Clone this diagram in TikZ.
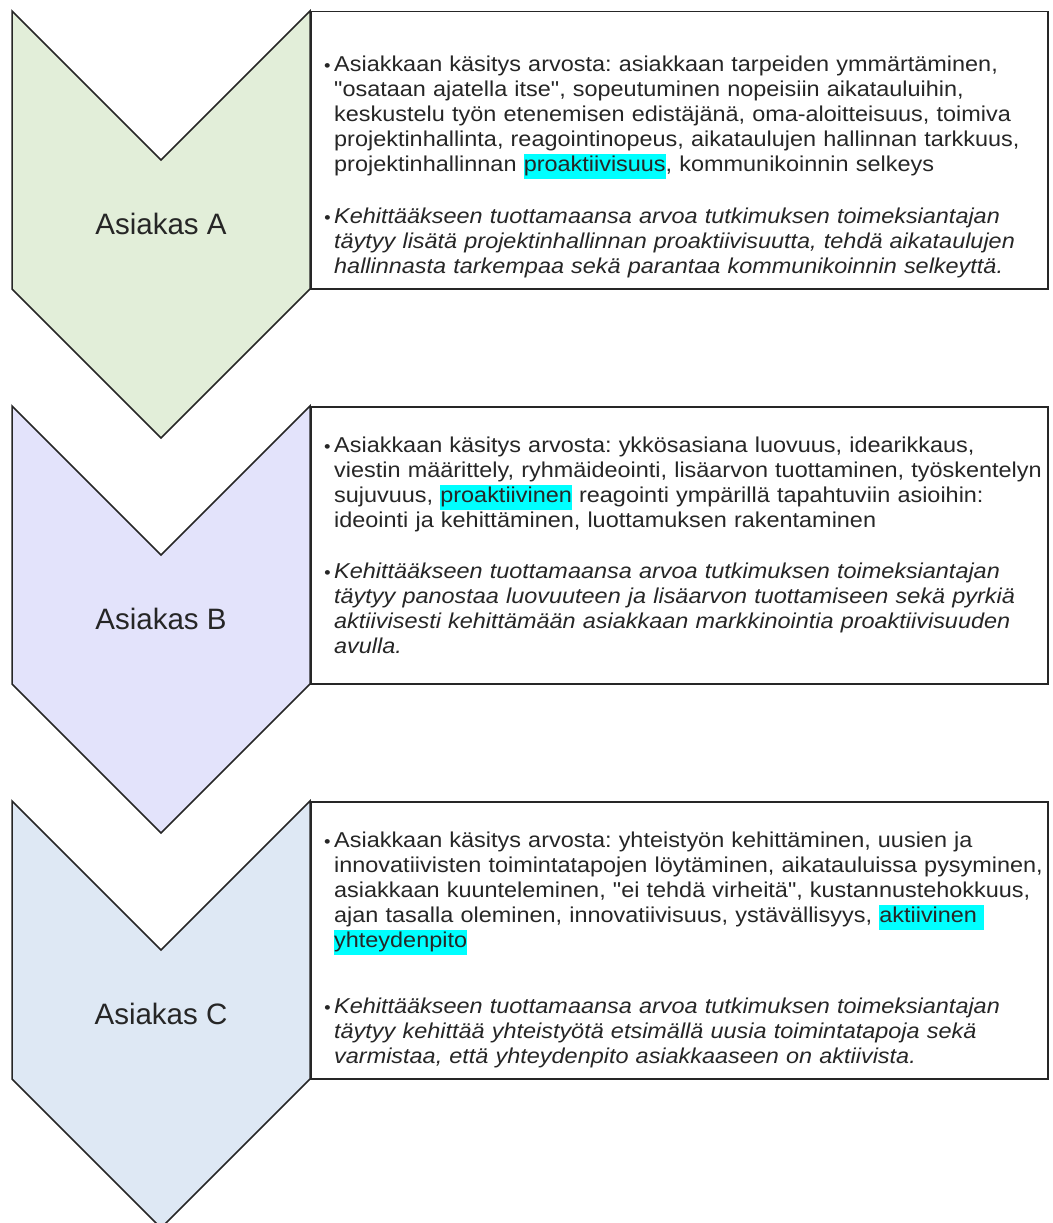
\documentclass[tikz,border=0pt]{standalone}
\usepackage{fontspec}
\setmainfont{Liberation Sans}
\newfontfamily\bodyfam{Liberation Sans}[FakeStretch=1.09]
\definecolor{fillA}{HTML}{E2EED9}
\definecolor{fillB}{HTML}{E3E3FB}
\definecolor{fillC}{HTML}{DEE8F4}
\definecolor{ink}{HTML}{262626}
\definecolor{hlcyan}{RGB}{0,255,255}
\frenchspacing
\newcommand{\hl}[1]{{\setlength{\fboxsep}{0pt}\colorbox{hlcyan}{\strut#1}}}
\newcommand{\bul}{\llap{{\fontsize{17}{17}\selectfont\textbullet}\hspace{3.5pt}}}

\begin{document}
\begin{tikzpicture}[x=1pt, y=-1pt,
    chev/.style={draw=ink, line width=1.5pt, line join=miter},
    infobox/.style={draw=ink, line width=1.5pt, fill=white, inner sep=0pt, anchor=north west,
        minimum width=737pt, minimum height=277pt},
    asiakas/.style={anchor=base, text=ink, font=\fontsize{29.5}{34}\selectfont},
    bullettext/.style={anchor=north west, inner sep=0pt, text=ink, text width=712pt, align=left,
        font=\bodyfam\fontsize{21.5}{25}\selectfont}]
    \clip (0,0) rectangle (1052,1223);

    % Laatikot
    \node[infobox] (boxA) at (310,11) {};
    \node[infobox] (boxB) at (310,406) {};
    \node[infobox] (boxC) at (310,801) {};

    % Nuolet
    \draw[chev, fill=fillA] (12,11) -- (161,160) -- (310,11) -- (310,289) -- (161,438) -- (12,289) -- cycle;
    \draw[chev, fill=fillB] (12,406) -- (161,555) -- (310,406) -- (310,684) -- (161,833) -- (12,684) -- cycle;
    \draw[chev, fill=fillC] (12,801) -- (161,950) -- (310,801) -- (310,1079) -- (161,1228) -- (12,1079) -- cycle;

    \node[asiakas] (asA) at (161,234) {Asiakas A};
    \node[asiakas] (asB) at (161,629) {Asiakas B};
    \node[asiakas] (asC) at (161,1024) {Asiakas C};

    % Asiakas A
    \node[bullettext] (txtA1) at (334,53.5) {\strut\bul Asiakkaan käsitys arvosta: asiakkaan tarpeiden ymmärtäminen,\\
        "osataan ajatella itse", sopeutuminen nopeisiin aikatauluihin,\\
        keskustelu työn etenemisen edistäjänä, oma-aloitteisuus, toimiva\\
        projektinhallinta, reagointinopeus, aikataulujen hallinnan tarkkuus,\\
        projektinhallinnan \hl{proaktiivisuus}, kommunikoinnin selkeys};
    \node[bullettext, font=\bodyfam\itshape\fontsize{21.5}{25}\selectfont] (txtA2) at (334,205.5) {\strut\bul Kehittääkseen tuottamaansa arvoa tutkimuksen toimeksiantajan\\
        täytyy lisätä projektinhallinnan proaktiivisuutta, tehdä aikataulujen\\
        hallinnasta tarkempaa sekä parantaa kommunikoinnin selkeyttä.};

    % Asiakas B
    \node[bullettext] (txtB1) at (334,434.5) {\strut\bul Asiakkaan käsitys arvosta: ykkösasiana luovuus, idearikkaus,\\
        viestin määrittely, ryhmäideointi, lisäarvon tuottaminen, työskentelyn\\
        sujuvuus, \hl{proaktiivinen} reagointi ympärillä tapahtuviin asioihin:\\
        ideointi ja kehittäminen, luottamuksen rakentaminen};
    \node[bullettext, font=\bodyfam\itshape\fontsize{21.5}{25}\selectfont] (txtB2) at (334,560.5) {\strut\bul Kehittääkseen tuottamaansa arvoa tutkimuksen toimeksiantajan\\
        täytyy panostaa luovuuteen ja lisäarvon tuottamiseen sekä pyrkiä\\
        aktiivisesti kehittämään asiakkaan markkinointia proaktiivisuuden\\
        avulla.};

    % Asiakas C
    \node[bullettext] (txtC1) at (334,829.5) {\strut\bul Asiakkaan käsitys arvosta: yhteistyön kehittäminen, uusien ja\\
        innovatiivisten toimintatapojen löytäminen, aikatauluissa pysyminen,\\
        asiakkaan kuunteleminen, "ei tehdä virheitä", kustannustehokkuus,\\
        ajan tasalla oleminen, innovatiivisuus, ystävällisyys, \hl{aktiivinen\ }\\
        \hl{yhteydenpito}};
    \node[bullettext, font=\bodyfam\itshape\fontsize{21.5}{25}\selectfont] (txtC2) at (334,995.5) {\strut\bul Kehittääkseen tuottamaansa arvoa tutkimuksen toimeksiantajan\\
        täytyy kehittää yhteistyötä etsimällä uusia toimintatapoja sekä\\
        varmistaa, että yhteydenpito asiakkaaseen on aktiivista.};
\end{tikzpicture}
\end{document}
